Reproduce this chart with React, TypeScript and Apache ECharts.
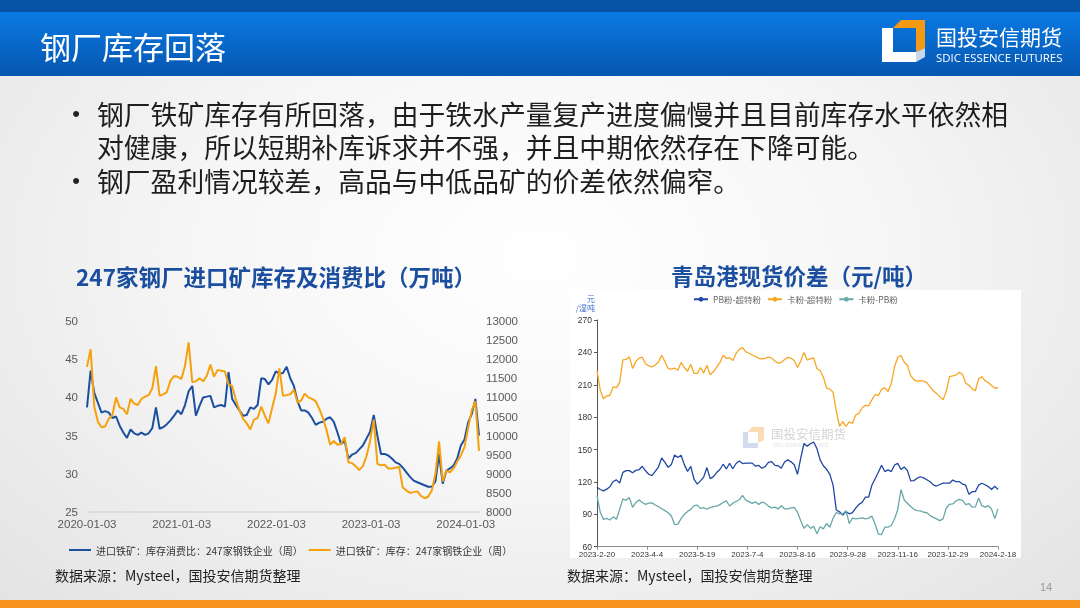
import { useEffect, useRef } from "react";
import * as echarts from "echarts";

const CJK = '"Noto Sans CJK SC", "Noto Sans", sans-serif';
const NUM = '"Liberation Sans", Arial, sans-serif';

// ---------- left chart: 247家钢厂进口矿库存及消费比 ----------
const leftTickLabels = ["2020-01-03", "2021-01-03", "2022-01-03", "2023-01-03", "2024-01-03"];
const leftSampleDays = 14; // one reading every two weeks from 2020-01-03
const leftYearDays = 365.25;
const ratioName = "进口铁矿：库存消费比：247家钢铁企业（周）";
const stockName = "进口铁矿：库存：247家钢铁企业（周）";
const stockRatio = [
  38.7, 43.5, 40.6, 39.3, 38, 38.2, 38, 37.3, 37.5, 36.3,
  35.4, 34.7, 35.8, 35.3, 35.1, 35.4, 35.1, 35.3, 36, 38.7,
  35.9, 36.1, 36.5, 37, 37.6, 38.3, 37.8, 39, 40.8, 41.5,
  37.6, 38.9, 40, 40.1, 40.2, 38.7, 38.9, 39, 38.8, 43.3,
  39.8, 39, 38.3, 37.6, 37.7, 38.7, 38.5, 39, 42.5, 42.4,
  41.7, 42.3, 43.4, 43.1, 43.2, 44, 42.5, 41.5, 39.5, 38.3,
  38.3, 38, 37.3, 36.4, 36.7, 36.8, 37.2, 37.4, 36.8, 35.4,
  33.9, 34.3, 32, 32.5, 32.7, 33.2, 33.7, 34.6, 35.5, 37.7,
  35, 32.6, 32.6, 32.4, 32, 31.5, 31.3, 30.8, 30.2, 29.6,
  29.1, 28.9, 28.7, 28.5, 28.3, 28.3, 29, 32.6, 28.7, 30.4,
  30.7, 31.1, 32, 33.7, 34.5, 36.7, 37.8, 39.8, 35,
];
const stockVolume = [
  11800, 12260, 10760, 10360, 10220, 10240, 10440, 10540, 11000, 10740,
  10700, 10560, 10960, 10840, 10800, 10960, 11020, 11060, 11240, 11820,
  11040, 11080, 11140, 11440, 11560, 11540, 11480, 11820, 12440, 11400,
  11420, 11500, 11420, 11560, 11860, 11540, 11720, 11700, 11680, 11340,
  11300, 10940, 10660, 10440, 10320, 10160, 10420, 10460, 10760, 10520,
  10320, 10720, 11100, 11760, 11040, 11060, 11080, 11200, 10860, 10920,
  11100, 11000, 10960, 10900, 10700, 10460, 10140, 9760, 9860, 9760,
  9780, 9960, 9300, 9280, 9200, 9100, 9200, 9460, 9860, 10420,
  9260, 9220, 9240, 9140, 9140, 9160, 9180, 8640, 8560, 8500,
  8520, 8540, 8420, 8360, 8400, 8560, 9000, 9840, 8800, 9080,
  9040, 9140, 9320, 9480, 9700, 10200, 10660, 10900, 9600,
];

// ---------- right chart: 青岛港现货价差 ----------
const rightTickLabels = [
  "2023-2-20", "2023-4-4", "2023-5-19", "2023-7-4", "2023-8-16",
  "2023-9-28", "2023-11-16", "2023-12-29", "2024-2-18",
];
const rightTickEvery = 31; // trading days between labels
const rightSampleStep = 2; // one reading every two trading days
const pbName = "PB粉-超特粉";
const kaName = "卡粉-超特粉";
const kaPbName = "卡粉-PB粉";
const pbSpread = [
  115, 113, 111.7, 113.3, 115.6, 120.4, 121.9, 119, 128.8, 130.5,
  130.5, 128.5, 130.7, 131.3, 134.5, 130.3, 127.1, 125.9, 129.7, 133.8,
  142.2, 138.1, 133.5, 136.2, 145, 142.6, 144.7, 136, 129.8, 134.4,
  122.5, 118, 121, 124.5, 133.3, 123, 124.9, 128.7, 131.5, 136.4,
  132, 137.3, 132.2, 137.1, 139.3, 137, 137.4, 137.5, 137.4, 134.6,
  135.3, 132.7, 134.2, 138.1, 138.8, 135.4, 135, 132.7, 138.4, 140.4,
  138.6, 135.9, 127, 142, 155.6, 153, 155.4, 157, 151, 140.4,
  135, 131.7, 127, 117, 94, 92.3, 89.4, 92.6, 90.5, 91.5,
  95.8, 99.2, 101.2, 106, 106, 117, 123, 129, 135.4, 129.6,
  131.1, 129.6, 135.7, 137.2, 131.5, 133.8, 130.5, 121, 121.2, 123.5,
  124.8, 123.7, 122, 120.2, 117.3, 116.2, 117.6, 118.8, 118.8, 118.8,
  121.8, 120.3, 120.3, 118, 117, 108.5, 111, 111, 117, 118.8,
  117.4, 115.7, 113, 116, 113,
];
const kaSpread = [
  223, 205, 197, 199.6, 200.3, 208, 207.4, 212, 233, 233.5,
  236, 225, 231.5, 234.7, 235.5, 229.5, 227.4, 226.5, 228.3, 231,
  237.4, 231.5, 225, 224.6, 225.5, 223.5, 230.7, 226, 222.5, 229,
  220.5, 220.6, 226, 220.8, 228, 219.2, 222, 226.3, 230.5, 237.4,
  234.5, 235, 232.5, 239, 242.8, 244.5, 240.6, 239.2, 237.6, 236.2,
  234.5, 234, 234.5, 235.7, 234.8, 232, 230, 230.7, 233.4, 235.4,
  234.6, 232.4, 226, 232, 240, 233, 234, 235, 225, 223,
  217, 207, 206, 203, 185.7, 171.5, 175.8, 171.5, 175.6, 174.3,
  182, 183.5, 188.7, 191, 190.6, 196, 201, 200, 205.8, 207.4,
  203.8, 211.4, 226.5, 235.5, 237.2, 230.8, 228, 218.5, 214.8, 213.2,
  213.9, 213.3, 212, 208, 204.5, 202, 199, 196, 203.7, 217.5,
  218.3, 219, 221.5, 219.8, 211.5, 209.5, 206.2, 204.5, 215.5, 217.5,
  213.6, 212.1, 209.4, 207, 207,
];
const kaPbSpread = [
  107.3, 92, 85.3, 86.3, 84.7, 87.6, 85.5, 94.5, 104.2, 103,
  105.5, 96.5, 100.8, 103.4, 101, 99.2, 100.3, 100.6, 98.6, 97.2,
  95.2, 93.4, 91.5, 88.4, 80.5, 80.9, 86, 90, 92.7, 94.6,
  98, 98.5, 95.5, 96.3, 94.7, 96.2, 97.1, 97.6, 99, 101,
  102.5, 97.7, 100.3, 101.9, 103.5, 107.5, 103.2, 101.7, 100.2, 101.6,
  99.2, 101.3, 100.3, 97.6, 96, 96.6, 95, 98, 95, 95,
  96, 96.5, 92, 84, 77, 80.5, 77, 79, 72, 78.5,
  76.5, 81.5, 78, 86.5, 91.7, 90.4, 90.4, 93.4, 81.5, 86.5,
  85.8, 86.3, 86.8, 85.8, 86.5, 88.3, 81, 71.7, 71.2, 78.1,
  78.1, 79.6, 85.6, 94.5, 113, 103.2, 100.2, 97.2, 94.6, 93.5,
  93.2, 91.9, 91.5, 88.8, 87.2, 85.8, 84.2, 85.8, 95.8, 99.3,
  99.6, 102.3, 103.9, 103, 99, 100, 96.7, 96.8, 105, 98,
  96.6, 98, 95, 86, 95,
];

const bulletText = [
  "钢厂铁矿库存有所回落，由于铁水产量复产进度偏慢并且目前库存水平依然相",
  "对健康，所以短期补库诉求并不强，并且中期依然存在下降可能。",
  "钢厂盈利情况较差，高品与中低品矿的价差依然偏窄。",
];
const bulletGlyphs = ["•", "", "•"];

function txt(text: string, x: number, y: number, size: number, fill: string, opts: any = {}) {
  const align = opts.align || "left";
  const valign = opts.valign || "middle";
  const style: any = {
    text,
    fill,
    fontSize: size,
    fontFamily: opts.family || CJK,
    fontWeight: opts.weight || "normal",
    textAlign: align,
    textVerticalAlign: valign,
    align,
    verticalAlign: valign,
  };
  if (opts.lineHeight) style.lineHeight = opts.lineHeight;
  return { type: "text", x, y, z: opts.z ?? 1, style };
}

export default function App() {
  const ref = useRef<HTMLDivElement>(null);

  useEffect(() => {
    const chart = echarts.init(ref.current!, null, { renderer: "svg", width: 1080, height: 608 });

    const leftRatio = stockRatio.map((v, i) => [i * leftSampleDays, v]);
    const leftStock = stockVolume.map((v, i) => [i * leftSampleDays, v]);
    const leftMax = (stockRatio.length - 1) * leftSampleDays;
    const rightMax = (rightTickLabels.length - 1) * rightTickEvery;
    const toRight = (arr: number[]) => arr.map((v, i) => [Math.min(i * rightSampleStep, rightMax), v]);

    const lineGap = 33.5;
    const graphic: any[] = [
      // header
      { type: "rect", z: -2, shape: { x: 0, y: 0, width: 1080, height: 12 }, style: { fill: "#0753a6" } },
      {
        type: "rect",
        z: -2,
        shape: { x: 0, y: 12, width: 1080, height: 64 },
        style: {
          fill: new echarts.graphic.LinearGradient(0, 0, 0, 1, [
            { offset: 0, color: "#0a7ae3" },
            { offset: 1, color: "#0656b0" },
          ]),
        },
      },
      txt("钢厂库存回落", 40, 45, 31, "#ffffff"),
      // logo
      {
        type: "polygon",
        z: 1,
        shape: { points: [[882, 28], [893, 28], [893, 52], [916, 52], [916, 62], [882, 62]] },
        style: { fill: "#ffffff" },
      },
      {
        type: "polygon",
        z: 1,
        shape: { points: [[893, 28], [901, 20], [925, 20], [925, 48], [916, 52], [916, 28]] },
        style: { fill: "#f39a12" },
      },
      {
        type: "polygon",
        z: 1,
        shape: { points: [[916, 52], [925, 48], [925, 57], [916, 62]] },
        style: { fill: "#c9d7ec" },
      },
      txt("国投安信期货", 936, 36, 21, "#ffffff"),
      txt("SDIC ESSENCE FUTURES", 936, 57, 11.4, "#ffffff", { family: '"Open Sans", sans-serif' }),
      // bullets
      txt(bulletGlyphs.join("\n"), 76, 113 - lineGap / 2, 22, "#222222", {
        align: "center",
        valign: "top",
        family: NUM,
        lineHeight: lineGap,
      }),
      txt(bulletText.join("\n"), 97, 113 - lineGap / 2, 26.8, "#1e1e1e", { valign: "top", lineHeight: lineGap }),
      // bottom bar
      { type: "rect", z: -2, shape: { x: 0, y: 600, width: 1080, height: 8 }, style: { fill: "#f7941d" } },
      // chart titles
      txt("247家钢厂进口矿库存及消费比（万吨）", 276, 276, 22.5, "#1b4e9e", { align: "center", weight: "bold" }),
      txt("青岛港现货价差（元/吨）", 799, 275, 22.5, "#1b4e9e", { align: "center", weight: "bold" }),
      // right panel
      { type: "rect", z: -1, shape: { x: 570, y: 290, width: 451, height: 268 }, style: { fill: "#ffffff" } },
      // watermark
      {
        type: "polygon",
        z: -1,
        shape: { points: [[743, 432], [748, 432], [748, 443], [758, 443], [758, 448], [743, 448]] },
        style: { fill: "#d3dcee" },
      },
      {
        type: "polygon",
        z: -1,
        shape: { points: [[748, 432], [752, 427], [764, 427], [764, 440], [758, 443], [758, 432]] },
        style: { fill: "#f8dcb4" },
      },
      txt("国投安信期货", 771, 433, 12.5, "#d4d4d4", { z: -1 }),
      txt("SDIC ESSENCE FUTURES", 773, 445, 5, "#e2e2e2", { z: -1, family: '"Open Sans", sans-serif' }),
      txt("元", 595, 298, 8, "#3f6fcf", { align: "right" }),
      txt("/湿吨", 595, 307, 8, "#3f6fcf", { align: "right" }),
      // sources & page number
      txt("数据来源：Mysteel，国投安信期货整理", 55, 575, 14, "#222222"),
      txt("数据来源：Mysteel，国投安信期货整理", 567, 575, 14, "#222222"),
      txt("14", 1046, 587, 11, "#9a9a9a", { align: "center", family: NUM }),
    ];

    const option: any = {
      animation: false,
      backgroundColor: "transparent",
      graphic,
      legend: [
        {
          data: [ratioName, stockName],
          left: 64,
          top: 540,
          icon: "rect",
          itemWidth: 22,
          itemHeight: 2,
          itemGap: 6,
          textStyle: { fontSize: 10, color: "#333333", fontFamily: CJK },
        },
        {
          data: [pbName, kaName, kaPbName],
          left: 688,
          top: 290,
          itemWidth: 14,
          itemHeight: 6,
          itemGap: 6,
          textStyle: { fontSize: 8.5, color: "#666666", fontFamily: CJK },
        },
      ],
      grid: [
        { left: 87, top: 321, width: 392, height: 191 },
        { left: 597, top: 320, width: 401, height: 226.7 },
      ],
      xAxis: [
        {
          type: "value",
          gridIndex: 0,
          min: 0,
          max: leftMax,
          interval: leftYearDays,
          axisLine: { show: true, lineStyle: { color: "#d9d9d9", width: 1.5 } },
          axisTick: { show: false },
          splitLine: { show: false },
          axisLabel: {
            color: "#595959",
            fontSize: 11.5,
            fontFamily: NUM,
            margin: 6,
            showMaxLabel: false,
            formatter: (v: number) => {
              const k = v / leftYearDays;
              const r = Math.round(k);
              return Math.abs(k - r) < 0.01 && leftTickLabels[r] ? leftTickLabels[r] : "";
            },
          },
        },
        {
          type: "value",
          gridIndex: 1,
          min: 0,
          max: rightMax,
          interval: rightTickEvery,
          axisLine: { show: true, lineStyle: { color: "#8c8c8c", width: 1 } },
          axisTick: { show: true, length: 3, lineStyle: { color: "#8c8c8c" } },
          splitLine: { show: false },
          axisLabel: {
            color: "#333333",
            fontSize: 8,
            fontFamily: NUM,
            margin: 4,
            formatter: (v: number) => rightTickLabels[Math.round(v / rightTickEvery)] ?? "",
          },
        },
      ],
      yAxis: [
        {
          type: "value",
          gridIndex: 0,
          position: "left",
          min: 25,
          max: 50,
          interval: 5,
          axisLine: { show: false },
          axisTick: { show: false },
          splitLine: { show: false },
          axisLabel: { color: "#595959", fontSize: 11.5, fontFamily: NUM, margin: 9, formatter: (v: number) => String(v) },
        },
        {
          type: "value",
          gridIndex: 0,
          position: "right",
          min: 8000,
          max: 13000,
          interval: 500,
          axisLine: { show: false },
          axisTick: { show: false },
          splitLine: { show: false },
          axisLabel: { color: "#595959", fontSize: 11.5, fontFamily: NUM, margin: 7, formatter: (v: number) => String(v) },
        },
        {
          type: "value",
          gridIndex: 1,
          min: 60,
          max: 270,
          interval: 30,
          axisLine: { show: true, lineStyle: { color: "#555555", width: 1 } },
          axisTick: { show: true, length: 3, lineStyle: { color: "#555555" } },
          splitLine: { show: false },
          axisLabel: { color: "#333333", fontSize: 8.5, fontFamily: NUM, margin: 5, formatter: (v: number) => String(v) },
        },
      ],
      series: [
        {
          name: ratioName,
          type: "line",
          xAxisIndex: 0,
          yAxisIndex: 0,
          data: leftRatio,
          showSymbol: false,
          symbol: "none",
          lineStyle: { color: "#1c4f9f", width: 2 },
          itemStyle: { color: "#1c4f9f" },
        },
        {
          name: stockName,
          type: "line",
          xAxisIndex: 0,
          yAxisIndex: 1,
          data: leftStock,
          showSymbol: false,
          symbol: "none",
          lineStyle: { color: "#f5a10d", width: 2 },
          itemStyle: { color: "#f5a10d" },
        },
        {
          name: pbName,
          type: "line",
          xAxisIndex: 1,
          yAxisIndex: 2,
          data: toRight(pbSpread),
          symbol: "circle",
          symbolSize: 5,
          showSymbol: false,
          lineStyle: { color: "#1f47a3", width: 1.3 },
          itemStyle: { color: "#1f47a3" },
        },
        {
          name: kaName,
          type: "line",
          xAxisIndex: 1,
          yAxisIndex: 2,
          data: toRight(kaSpread),
          symbol: "circle",
          symbolSize: 5,
          showSymbol: false,
          lineStyle: { color: "#f7a624", width: 1.3 },
          itemStyle: { color: "#f7a624" },
        },
        {
          name: kaPbName,
          type: "line",
          xAxisIndex: 1,
          yAxisIndex: 2,
          data: toRight(kaPbSpread),
          symbol: "circle",
          symbolSize: 5,
          showSymbol: false,
          lineStyle: { color: "#68a8a9", width: 1.3 },
          itemStyle: { color: "#68a8a9" },
        },
      ],
    };

    chart.setOption(option);
    return () => chart.dispose();
  }, []);

  return (
    <div
      ref={ref}
      style={{
        position: "fixed",
        left: 0,
        top: 0,
        width: 1080,
        height: 608,
        background: "radial-gradient(ellipse at 50% 42%, #ffffff 0%, #f6f6f6 45%, #e3e3e3 100%)",
      }}
    />
  );
}
